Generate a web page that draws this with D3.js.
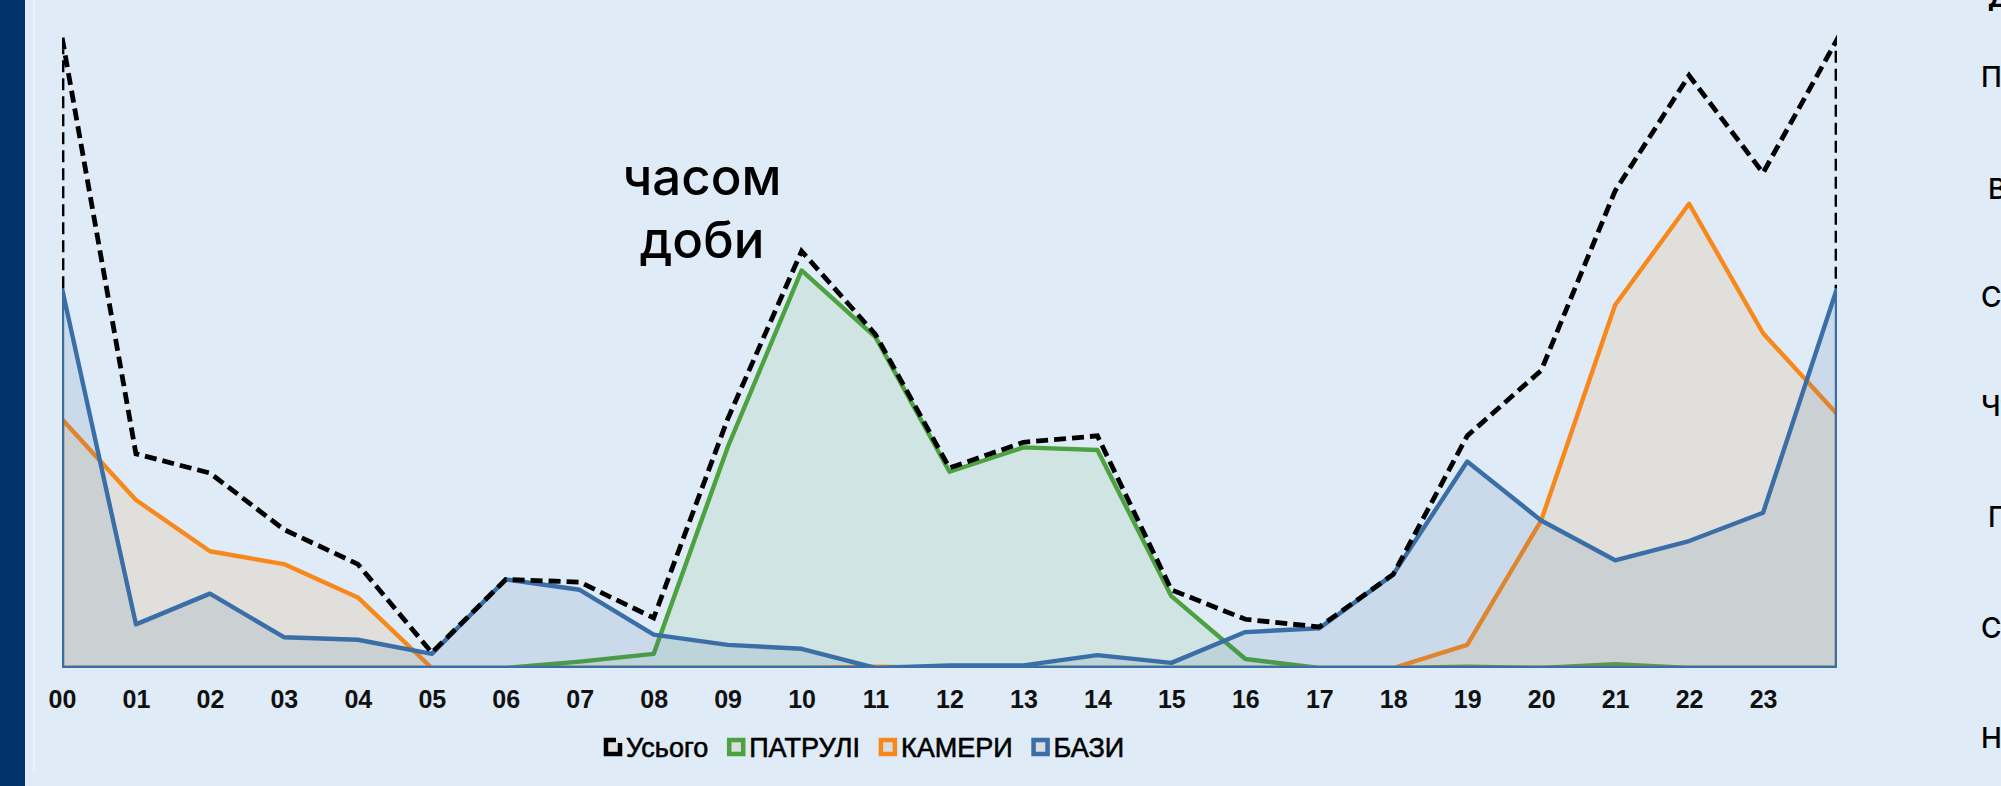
<!DOCTYPE html>
<html>
<head>
<meta charset="utf-8">
<script src="https://cdn.jsdelivr.net/npm/d3@7"></script>
<style>
  html, body { margin: 0; padding: 0; background: #dfebf6; overflow: hidden; }
  svg { display: block; }
</style>
</head>
<body>
<svg id="chart" width="2001" height="786"></svg>
<script>
// ---- data ----
const categories = ["00","01","02","03","04","05","06","07","08","09","10","11","12",
                    "13","14","15","16","17","18","19","20","21","22","23","24"];
const tickLabels = ["00","01","02","03","04","05","06","07","08","09","10","11",
                    "12","13","14","15","16","17","18","19","20","21","22","23"];
const seriesNames = ["Усього", "ПАТРУЛІ", "КАМЕРИ", "БАЗИ"];
const total   = [492,167,152,108,81,12,69,67,39,194,325,260,156,176,181,61,38,32,73,181,232,372,462,386,490];
const patrols = [0,0,0,0,0,0,0,5,11,172,310,258,153,172,170,56,7,0,0,1,0,3,0,0,0];
const cameras = [194,131,91,81,55,0,0,0,0,0,0,1,0,0,0,0,0,0,0,18,115,283,362,261,198];
const bases   = [296,34,58,24,22,11,69,61,26,18,15,0,2,2,10,4,28,31,73,161,115,84,99,121,296];
const titleLines = ["часом", "доби"];
const weekdays = ["Пн", "Вт", "Ср", "Чт", "Пт", "Сб", "Нд"];

// ---- layout ----
const W = 2001, H = 786;
const pL = 62, pR = 1837, pT = 37, pB = 668;
const svg = d3.select("#chart");

svg.append("rect").attr("width", W).attr("height", H).attr("fill", "#dfebf6");
svg.append("rect").attr("x", 0).attr("y", 0).attr("width", 25).attr("height", H).attr("fill", "#003369");
svg.append("line").attr("x1", 34).attr("x2", 34).attr("y1", 0).attr("y2", 772)
   .attr("stroke", "#eef4fa").attr("stroke-width", 1.5);

const x = d3.scalePoint().domain(categories).range([pL, pR]);
const y = d3.scaleLinear().domain([0, d3.max(total)]).range([pB, pT]);

svg.append("clipPath").attr("id", "plotClip")
   .append("rect").attr("x", pL).attr("y", 0).attr("width", pR - pL).attr("height", pB);

const plot = svg.append("g").attr("clip-path", "url(#plotClip)");

const series = [
  { name: seriesNames[1], values: patrols, color: "#4ba23e", fill: "rgba(75,162,62,0.10)" },
  { name: seriesNames[2], values: cameras, color: "#f7891c", fill: "rgba(247,137,28,0.12)" },
  { name: seriesNames[3], values: bases,   color: "#3a6ea6", fill: "rgba(58,110,166,0.13)" }
];

const area = d3.area()
  .x((d, i) => x(categories[i]))
  .y0(y(0))
  .y1(d => y(d));

series.forEach(s => {
  plot.append("path")
    .datum(s.values)
    .attr("d", area)
    .attr("fill", s.fill)
    .attr("stroke", s.color)
    .attr("stroke-width", 4.4)
    .attr("stroke-linejoin", "round");
});

// total dashed outline: from the bases end values up to the total line and back down
const totalPts = [[x(categories[0]), y(bases[0])]]
  .concat(total.map((v, i) => [x(categories[i]), y(v)]))
  .concat([[x(categories[categories.length - 1]), y(bases[bases.length - 1])]]);

plot.append("path")
  .datum(totalPts)
  .attr("d", d3.line())
  .attr("fill", "none")
  .attr("stroke", "#000")
  .attr("stroke-width", 4.8)
  .attr("stroke-dasharray", "12,6")
  .attr("stroke-linejoin", "miter");

// x axis labels
const xAxis = d3.axisBottom(x).tickValues(tickLabels).tickSize(0).tickPadding(0);
const ax = svg.append("g").attr("transform", `translate(0, ${pB})`).call(xAxis);
ax.select(".domain").remove();
ax.selectAll("text")
  .attr("dy", null)
  .attr("y", 40)
  .attr("font-family", "'Liberation Sans', Arial, sans-serif")
  .attr("font-weight", "bold")
  .attr("font-size", 25)
  .attr("fill", "#111");

// title
const title = svg.append("text")
  .attr("text-anchor", "middle")
  .attr("font-family", "Inter, 'Liberation Sans', sans-serif")
  .attr("font-size", 51)
  .attr("font-weight", 500)
  .attr("fill", "#000");
titleLines.forEach((t, i) => {
  title.append("tspan").attr("x", 702).attr("y", 195 + i * 63).text(t);
});

// legend
const legend = svg.append("g");
const legendColors = ["#000", "#4ba23e", "#f7891c", "#3a6ea6"];
let lx = 604;
const ly = 747;
seriesNames.forEach((name, i) => {
  if (i === 0) {
    legend.append("rect").attr("x", lx + 2).attr("y", ly - 7).attr("width", 14).attr("height", 14)
      .attr("fill", "#e2e2e2").attr("stroke", "#000").attr("stroke-width", 4.5)
      .attr("stroke-dasharray", "10,7,39");
  } else {
    legend.append("rect").attr("x", lx + 2).attr("y", ly - 7).attr("width", 14).attr("height", 14)
      .attr("fill", "#d9dde0").attr("stroke", legendColors[i]).attr("stroke-width", 4.5);
  }
  const t = legend.append("text")
    .attr("x", lx + 22).attr("y", ly + 10)
    .attr("font-family", "'Liberation Sans', Arial, sans-serif")
    .attr("font-size", 27)
    .attr("fill", "#000")
    .attr("stroke", "#000")
    .attr("stroke-width", 0.6)
    .text(name);
  lx = lx + 22 + t.node().getComputedTextLength() + 19;
});

// cropped weekday labels at the right edge
const dayX = [1981, 1988, 1981, 1981, 1988, 1981, 1981];
const dayY = [77, 189, 297, 406, 517, 628, 738];
weekdays.forEach((d, i) => {
  svg.append("text")
    .attr("x", dayX[i]).attr("y", dayY[i] + 10)
    .attr("font-family", "Inter, 'Liberation Sans', sans-serif")
    .attr("font-size", 28)
    .attr("font-weight", 500)
    .attr("fill", "#000")
    .text(d);
});
svg.append("text")
  .attr("x", 1988).attr("y", 7)
  .attr("font-family", "Inter, 'Liberation Sans', sans-serif")
  .attr("font-size", 26).attr("font-weight", 700)
  .attr("fill", "#000").text("Дні");
</script>
</body>
</html>
